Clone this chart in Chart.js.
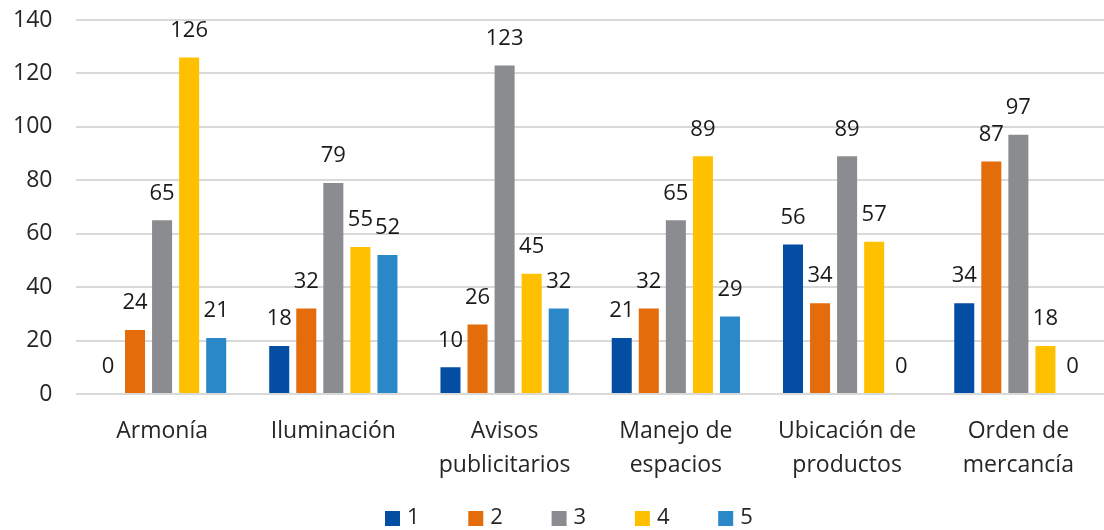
<!DOCTYPE html>
<html>
<head>
<meta charset="utf-8">
<script src="https://cdn.jsdelivr.net/npm/chart.js@4"></script>
<style>
  html, body { margin: 0; padding: 0; background: #fff; }
  #wrap { width: 1104px; height: 530px; position: relative; }
</style>
</head>
<body>
<div id="wrap"><canvas id="chart"></canvas></div>
<script>
// Categories and series
const categories = [
  'Armonía',
  'Iluminación',
  ['Avisos', 'publicitarios'],
  ['Manejo de', 'espacios'],
  ['Ubicación de', 'productos'],
  ['Orden de', 'mercancía']
];
const seriesNames = ['1', '2', '3', '4', '5'];
const serie1 = [0, 18, 10, 21, 56, 34];
const serie2 = [24, 32, 26, 32, 34, 87];
const serie3 = [65, 79, 123, 65, 89, 97];
const serie4 = [126, 55, 45, 89, 57, 18];
const serie5 = [21, 52, 32, 29, 0, 0];
const yTicks = [0, 20, 40, 60, 80, 100, 120, 140];

const colors = ['#034ea2', '#e46c0a', '#8b8c8f', '#ffc000', '#2a88c8'];
const allSeries = [serie1, serie2, serie3, serie4, serie5];
const FONT = '"Open Sans", "DejaVu Sans", sans-serif';

// Value labels above each bar
const valueLabels = {
  id: 'valueLabels',
  afterDatasetsDraw(chart) {
    const ctx = chart.ctx;
    ctx.save();
    ctx.font = '22px ' + FONT;
    ctx.fillStyle = '#1a1a1a';
    ctx.textAlign = 'center';
    ctx.textBaseline = 'middle';
    chart.data.datasets.forEach((ds, i) => {
      const meta = chart.getDatasetMeta(i);
      meta.data.forEach((bar, j) => {
        ctx.fillText(String(ds.data[j]), bar.x, bar.y - 27);
      });
    });
    ctx.restore();
  }
};

// Legend row at the bottom, spaced like the original
const bottomLegend = {
  id: 'bottomLegend',
  afterDraw(chart) {
    const ctx = chart.ctx;
    const startX = 385;
    const step = 83.3;
    const y = 518;
    ctx.save();
    ctx.font = '22px ' + FONT;
    ctx.textBaseline = 'middle';
    ctx.textAlign = 'left';
    chart.data.datasets.forEach((ds, i) => {
      const x = startX + i * step;
      ctx.fillStyle = ds.backgroundColor;
      ctx.fillRect(x, y - 7, 15, 15);
      ctx.fillStyle = '#262626';
      ctx.fillText(ds.label, x + 22, y);
    });
    ctx.restore();
  }
};

new Chart(document.getElementById('chart'), {
  type: 'bar',
  data: {
    labels: categories,
    datasets: allSeries.map((d, i) => ({
      label: seriesNames[i],
      data: d,
      backgroundColor: colors[i],
      borderWidth: 0,
      categoryPercentage: 0.79,
      barPercentage: 0.74
    }))
  },
  options: {
    responsive: true,
    maintainAspectRatio: false,
    animation: false,
    layout: { padding: { left: -11, right: 0, top: 0, bottom: 35 } },
    plugins: {
      legend: { display: false },
      tooltip: { enabled: false }
    },
    scales: {
      y: {
        min: 0,
        max: 140,
        afterBuildTicks: (axis) => { axis.ticks = yTicks.map(v => ({ value: v })); },
        // keep the tick padding from pushing the plot down
        afterFit: (axis) => { axis.paddingTop = 20; },
        border: { display: false },
        grid: { color: '#d9d9d9', lineWidth: 2, drawTicks: false },
        ticks: {
          padding: 24,
          color: '#262626',
          font: { size: 23, family: FONT }
        }
      },
      x: {
        border: { display: false },
        grid: { display: false },
        ticks: {
          padding: 12,
          color: '#262626',
          maxRotation: 0,
          autoSkip: false,
          font: { size: 23, family: FONT, lineHeight: 1.5 }
        }
      }
    }
  },
  plugins: [valueLabels, bottomLegend]
});
</script>
</body>
</html>
